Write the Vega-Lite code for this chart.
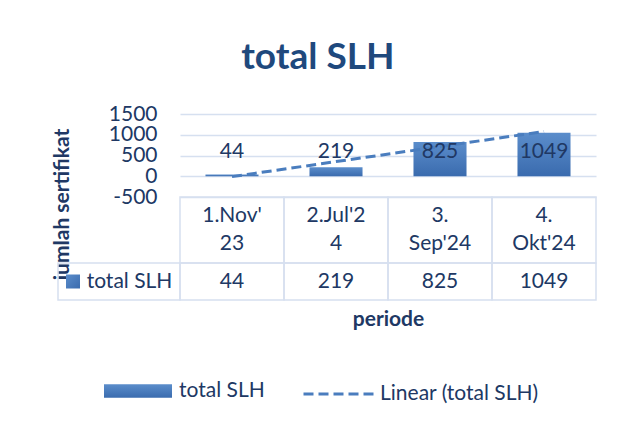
{
  "$schema": "https://vega.github.io/schema/vega-lite/v6.json",
  "padding": {"left": 51, "top": 39, "right": 5, "bottom": 5},
  "config": {"view": {"stroke": null}, "font": "Lato", "axisY": {"labelOverlap": false}},
  "title": {"text": "total SLH", "font": "Lato", "fontSize": 37, "fontWeight": "bold", "color": "#1F497D", "anchor": "middle", "offset": 26, "dx": -6},
  "datasets": {
    "slh": [
      {"periode": "1.Nov'23", "kategori": "1.Nov'\n23", "total": 44, "trend": -9},
      {"periode": "2.Jul'24", "kategori": "2.Jul'2\n4", "total": 219, "trend": 353},
      {"periode": "3.Sep'24", "kategori": "3.\nSep'24", "total": 825, "trend": 715},
      {"periode": "4.Okt'24", "kategori": "4.\nOkt'24", "total": 1049, "trend": 1077}
    ],
    "legendcell": [{"row": "total SLH"}]
  },
  "columns": 2,
  "spacing": 0,
  "bounds": "flush",
  "resolve": {"scale": {"x": "independent", "y": "independent"}},
  "concat": [
    {
      "width": 122, "height": 83,
      "data": {"values": [{}]},
      "mark": {"type": "text"},
      "encoding": {}
    },
    {
      "width": 416, "height": 83,
      "data": {"name": "slh"},
      "encoding": {
        "x": {"field": "periode", "type": "nominal", "sort": null, "scale": {"paddingInner": 0, "paddingOuter": 0}, "axis": null},
        "y": {"field": "total", "type": "quantitative",
          "scale": {"domain": [-500, 1500], "nice": false, "zero": false},
          "axis": {"values": [-500, 0, 500, 1000, 1500], "labelExpr": "'' + datum.value", "domain": false, "ticks": false,
            "labelFont": "Lato", "labelFontSize": 21, "labelColor": "#203864", "labelPadding": 23,
            "labelOverlap": false, "labelFlush": false,
            "gridColor": "#D6E0F0", "gridWidth": 1.5,
            "title": "jumlah sertifikat", "titleFont": "Lato", "titleFontSize": 21, "titleFontWeight": "bold",
            "titleColor": "#203864", "titleX": -118, "titleY": 90, "titleAngle": -90,
            "titleBaseline": "middle", "titleAlign": "center"}}
      },
      "layer": [
        {
          "mark": {"type": "bar", "width": {"band": 0.51}, "strokeWidth": 0,
            "fill": {"gradient": "linear", "x1": 0, "y1": 0, "x2": 0, "y2": 1,
              "stops": [{"offset": 0, "color": "#5B8DCB"}, {"offset": 1, "color": "#3A6BAE"}]}},
          "encoding": {
            "stroke": {"datum": "total SLH", "type": "nominal",
              "scale": {"domain": ["total SLH"], "range": ["#4A7DBE"]},
              "legend": {
                "orient": "none", "legendX": 46, "legendY": 243, "direction": "horizontal",
                "title": null, "labelFont": "Lato", "labelFontSize": 21, "labelColor": "#203864",
                "symbolType": "M-1,-0.2H1V0.2H-1Z", "symbolSize": 4624, "symbolStrokeWidth": 0,
                "symbolFillColor": "#4A7DBE", "symbolOpacity": 1, "labelOffset": 7
              }}
          }
        },
        {
          "mark": {"type": "line", "strokeWidth": 3, "color": "#4A7DBE"},
          "encoding": {
            "y": {"field": "trend", "type": "quantitative"},
            "strokeDash": {"datum": "Linear (total SLH)", "type": "nominal",
              "scale": {"domain": ["Linear (total SLH)"], "range": [[10, 5]]},
              "legend": {
                "orient": "none", "legendX": 244, "legendY": 243, "direction": "horizontal",
                "title": null, "labelFont": "Lato", "labelFontSize": 21, "labelColor": "#203864",
                "symbolType": "stroke", "symbolSize": 5041, "symbolStrokeWidth": 3,
                "symbolStrokeColor": "#4A7DBE", "symbolOpacity": 1, "labelOffset": 4
              }}
          }
        },
        {
          "mark": {"type": "text", "font": "Lato", "fontSize": 21, "color": "#203864", "baseline": "middle"},
          "encoding": {
            "y": {"datum": 590, "type": "quantitative"},
            "text": {"field": "total", "type": "quantitative"}
          }
        }
      ]
    },
    {
      "width": 122, "height": 66,
      "data": {"values": [{}]},
      "mark": {"type": "text"},
      "encoding": {}
    },
    {
      "width": 416, "height": 66,
      "data": {"name": "slh"},
      "encoding": {
        "x": {"field": "periode", "type": "nominal", "sort": null, "scale": {"paddingInner": 0, "paddingOuter": 0}, "axis": null}
      },
      "layer": [
        {
          "mark": {"type": "rect", "fill": null, "stroke": "#D6E0F0", "strokeWidth": 1.5},
          "encoding": {
            "y": {"datum": 0, "type": "quantitative", "scale": {"domain": [0, 1], "nice": false}, "axis": null},
            "y2": {"datum": 1}
          }
        },
        {
          "mark": {"type": "text", "font": "Lato", "fontSize": 21, "color": "#203864", "baseline": "middle", "lineBreak": "\n", "lineHeight": 28, "dy": -14},
          "encoding": {
            "y": {"datum": 0.5, "type": "quantitative"},
            "text": {"field": "kategori", "type": "nominal"}
          }
        }
      ]
    },
    {
      "width": 122, "height": 37,
      "data": {"name": "legendcell"},
      "encoding": {},
      "layer": [
        {
          "mark": {"type": "rect", "fill": null, "stroke": "#D6E0F0", "strokeWidth": 1.5},
          "encoding": {
            "x": {"datum": 0, "type": "quantitative", "scale": {"domain": [0, 1], "nice": false}, "axis": null},
            "x2": {"datum": 1},
            "y": {"datum": 0, "type": "quantitative", "scale": {"domain": [0, 1], "nice": false}, "axis": null},
            "y2": {"datum": 1}
          }
        },
        {
          "mark": {"type": "point", "shape": "square", "filled": true, "size": 196, "opacity": 1,
            "color": {"gradient": "linear", "x1": 0, "y1": 0, "x2": 1, "y2": 1,
              "stops": [{"offset": 0, "color": "#5B8DCB"}, {"offset": 1, "color": "#3A6BAE"}]}},
          "encoding": {
            "x": {"datum": 0.123, "type": "quantitative"},
            "y": {"datum": 0.5, "type": "quantitative"}
          }
        },
        {
          "mark": {"type": "text", "font": "Lato", "fontSize": 21, "color": "#203864", "baseline": "middle", "align": "left"},
          "encoding": {
            "x": {"datum": 0.235, "type": "quantitative"},
            "y": {"datum": 0.5, "type": "quantitative"},
            "text": {"field": "row", "type": "nominal"}
          }
        }
      ]
    },
    {
      "width": 416, "height": 37,
      "data": {"name": "slh"},
      "encoding": {
        "x": {"field": "periode", "type": "nominal", "sort": null, "scale": {"paddingInner": 0, "paddingOuter": 0},
          "axis": {"labels": false, "ticks": false, "domain": false, "title": "periode", "titleFont": "Lato",
            "titleFontSize": 21, "titleFontWeight": "bold", "titleColor": "#203864", "titlePadding": 8}}
      },
      "layer": [
        {
          "mark": {"type": "rect", "fill": null, "stroke": "#D6E0F0", "strokeWidth": 1.5},
          "encoding": {
            "y": {"datum": 0, "type": "quantitative", "scale": {"domain": [0, 1], "nice": false}, "axis": null},
            "y2": {"datum": 1}
          }
        },
        {
          "mark": {"type": "text", "font": "Lato", "fontSize": 21, "color": "#203864", "baseline": "middle"},
          "encoding": {
            "y": {"datum": 0.5, "type": "quantitative"},
            "text": {"field": "total", "type": "quantitative"}
          }
        }
      ]
    }
  ]
}
